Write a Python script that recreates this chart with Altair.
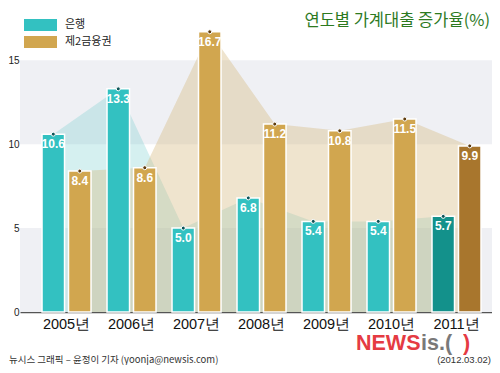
import altair as alt
import pandas as pd

# ---- data ----
years = ["2005년", "2006년", "2007년", "2008년", "2009년", "2010년", "2011년"]
bank = [10.6, 13.3, 5.0, 6.8, 5.4, 5.4, 5.7]
second = [8.4, 8.6, 16.7, 11.2, 10.8, 11.5, 9.9]
series_names = ["은행", "제2금융권"]
band_lo = [0, 10]
band_hi = [5, 15]
y_ticks = [0, 5, 10, 15]
title_text = "연도별 가계대출 증가율(%)"
credit_text = "뉴시스 그래픽 – 윤정이 기자 (yoonja@newsis.com)"
date_text = "(2012.03.02)"
logo_parts = ["NEWS", "is.(", ")"]

rows = []
for i, yr in enumerate(years):
    for s, vals in zip(series_names, [bank, second]):
        rows.append({
            "year": yr,
            "series": s,
            "value": vals[i],
            "tone": s + (" 강조" if yr == "2011년" else ""),
            "label": f"{vals[i]:.1f}",
        })
df = pd.DataFrame(rows)
bands = pd.DataFrame({"lo": band_lo, "hi": band_hi})

LAT = "Liberation Sans, Arial, sans-serif"
KR = "Noto Sans CJK KR"

tones = ["은행", "제2금융권", "은행 강조", "제2금융권 강조"]
tone_colors = ["#33c1c1", "#d1a64f", "#13918b", "#a8762d"]

yscale = alt.Scale(domain=[0, 18], nice=False, zero=True)
yaxis = alt.Axis(values=y_ticks, title=None, domain=False, ticks=False, grid=False,
                 labelFontSize=10, labelPadding=1, labelColor="#222", labelFont=LAT)
xaxis = alt.Axis(title=None, labelAngle=0, labelFontSize=14.5, labelColor="#111",
                 labelFont=LAT, domainColor="#555", domainWidth=1.5, ticks=False,
                 labelPadding=5)
xscale = alt.Scale(paddingInner=0.246, paddingOuter=0.254, align=0.667)
xenc = alt.X("year:N", sort=years, scale=xscale, axis=xaxis)
xoff = alt.XOffset("series:N", sort=series_names,
                   scale=alt.Scale(paddingInner=0.15, paddingOuter=0))
yenc = alt.Y("value:Q", scale=yscale, axis=yaxis)

band_layer = alt.Chart(bands).mark_rect(color="#eff0f4").encode(
    x=alt.value(0), x2=alt.value("width"),
    y=alt.Y("lo:Q", scale=yscale, axis=yaxis), y2="hi:Q")

area_bank = alt.Chart(df).transform_filter(alt.datum.series == "은행").mark_area(
    color="#73cdcd", opacity=0.3).encode(x=xenc, xOffset=xoff, y=yenc)
area_second = alt.Chart(df).transform_filter(alt.datum.series == "제2금융권").mark_area(
    color="#d4b77f", opacity=0.38).encode(x=xenc, xOffset=xoff, y=yenc)

bars = alt.Chart(df).mark_bar(stroke="white", strokeWidth=1.5).encode(
    x=xenc, xOffset=xoff, y=yenc,
    color=alt.Color("tone:N", scale=alt.Scale(domain=tones, range=tone_colors),
                    legend=alt.Legend(values=series_names, title=None, orient="none",
                                      legendX=4, legendY=9, padding=0,
                                      symbolType="M-1,-1L4.5,-1L4.5,1L-1,1Z",
                                      symbolSize=144, symbolStrokeWidth=0,
                                      labelFontSize=11, labelFont=KR, labelColor="#222",
                                      labelOffset=29, rowPadding=5)))

dots = alt.Chart(df).mark_circle(size=16, stroke="white", strokeWidth=1, opacity=1).encode(
    x=xenc, xOffset=xoff, y=yenc,
    fill=alt.Fill("series:N", scale=alt.Scale(domain=series_names,
                                              range=["#0e5457", "#5e3c0f"]), legend=None))

labels = alt.Chart(df).mark_text(color="white", fontWeight="bold", fontSize=12,
                                 font=LAT, baseline="top", dy=5).encode(
    x=xenc, xOffset=xoff, y=yenc, text="label:N")

title = alt.Chart(pd.DataFrame({"t": [title_text]})).mark_text(
    fontSize=16.5, font=KR, color="#2d7a1f", align="right", baseline="middle").encode(
    x=alt.value(470), y=alt.value(10.5), text="t:N")

credit = alt.Chart(pd.DataFrame({"t": [credit_text]})).mark_text(
    fontSize=9.5, font=KR, color="#333", align="left", baseline="middle").encode(
    x=alt.value(-11), y=alt.value(350), text="t:N")

date = alt.Chart(pd.DataFrame({"t": [date_text]})).mark_text(
    fontSize=9.5, font=LAT, color="#333", align="right", baseline="middle").encode(
    x=alt.value(471), y=alt.value(350), text="t:N")

logo1 = alt.Chart(pd.DataFrame({"t": [logo_parts[0]]})).mark_text(
    fontSize=21.5, font=LAT, fontWeight="bold", color="#e3262e", align="left",
    baseline="alphabetic", opacity=0.9).encode(x=alt.value(336), y=alt.value(340), text="t:N")
logo2 = alt.Chart(pd.DataFrame({"t": [logo_parts[1]]})).mark_text(
    fontSize=21.5, font=LAT, fontWeight="bold", color="#6b6b6b", align="left",
    baseline="alphabetic", opacity=0.9).encode(x=alt.value(401), y=alt.value(340), text="t:N")
logo3 = alt.Chart(pd.DataFrame({"t": [logo_parts[2]]})).mark_text(
    fontSize=21.5, font=LAT, fontWeight="bold", color="#e3262e", align="left",
    baseline="alphabetic", opacity=0.9).encode(x=alt.value(443), y=alt.value(340), text="t:N")

chart = alt.layer(band_layer, area_bank, area_second, bars, dots, labels,
                  title, credit, date, logo1, logo2, logo3).properties(
    width=472, height=302,
    padding={"left": 12, "top": 2, "right": 0, "bottom": 53},
    autosize="none",
    background="white",
).configure_view(stroke=None)

chart.save("out.html", embed_options={"renderer": "svg", "actions": False})
